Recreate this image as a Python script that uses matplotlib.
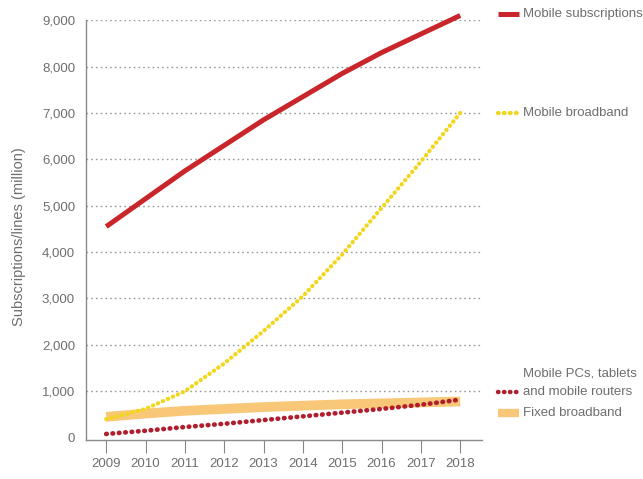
import matplotlib
matplotlib.use("Agg")
import matplotlib.pyplot as plt

plt.rcParams['font.family'] = ['Liberation Sans Narrow', 'Liberation Sans', 'DejaVu Sans']

years = [2009, 2010, 2011, 2012, 2013, 2014, 2015, 2016, 2017, 2018]
mobile_subs = [4550, 5150, 5750, 6300, 6850, 7350, 7850, 8300, 8700, 9100]
mobile_bb = [400, 620, 1000, 1600, 2300, 3050, 3950, 4950, 5950, 7000]
mobile_pcs = [80, 150, 230, 300, 380, 460, 540, 620, 710, 820]
fixed_bb = [450, 520, 580, 620, 660, 690, 720, 740, 760, 780]
yticks = [0, 1000, 2000, 3000, 4000, 5000, 6000, 7000, 8000, 9000]

red = '#c9262c'
yellow = '#f2d61c'
orange = '#f8c878'
darkred = '#b01e2e'
grey = '#6e6e6e'

fig = plt.figure(figsize=(6.43, 4.79), dpi=100)
ax = fig.add_axes([0.134, 0.0814, 0.616, 0.8766])

for v in yticks[1:]:
    ax.axhline(v, color='#9a9a9a', lw=1.0, ls=(0, (1.2, 2.2)), zorder=1)

ax.plot(years, fixed_bb, color=orange, lw=7, solid_capstyle='butt', zorder=2)
ax.plot(years, mobile_pcs, color=darkred, lw=3.4, ls=(0, (0.1, 1.25)),
        dash_capstyle='round', zorder=3)
ax.plot(years, mobile_bb, color=yellow, lw=3.0, ls=(0, (0.1, 1.2)),
        dash_capstyle='round', zorder=3)
ax.plot(years, mobile_subs, color=red, lw=3.6, solid_capstyle='butt',
        zorder=4, clip_on=False)

ax.set_xlim(2008.49, 2018.56)
ax.set_ylim(-50, 9000)
ax.set_xticks(years)
ax.set_yticks(yticks)
ax.set_yticklabels([f'{v:,}' for v in yticks])
ax.tick_params(axis='y', length=0, pad=8, labelsize=9.5, labelcolor=grey)
ax.tick_params(axis='x', length=9, width=0.8, color='#888888', pad=4,
               labelsize=9.5, labelcolor=grey)
for s in ['top', 'right']:
    ax.spines[s].set_visible(False)
for s in ['left', 'bottom']:
    ax.spines[s].set_color('#8a8a8a')
    ax.spines[s].set_linewidth(1.0)

fig.text(0.03, 0.505, 'Subscriptions/lines (million)', rotation=90,
         ha='center', va='center', fontsize=10.5, color=grey)

# legend entries placed next to the line ends
def key(y, color, dotted=False, lw=3.6):
    yf = 1 - y / 479
    if dotted:
        fig.add_artist(plt.Line2D([0.775, 0.805], [yf, yf], color=color, lw=3.2,
                                  ls=(0, (0.1, 1.25)), dash_capstyle='round'))
    else:
        fig.add_artist(plt.Line2D([0.775, 0.807], [yf, yf], color=color, lw=lw,
                                  solid_capstyle='butt'))

key(14, red)
fig.text(0.814, 1 - 14 / 479, 'Mobile subscriptions', va='center', fontsize=9.5, color=grey)
key(113, yellow, dotted=True)
fig.text(0.814, 1 - 113 / 479, 'Mobile broadband', va='center', fontsize=9.5, color=grey)
fig.text(0.814, 1 - 373 / 479, 'Mobile PCs, tablets', va='center', fontsize=9.5, color=grey)
key(392, darkred, dotted=True)
fig.text(0.814, 1 - 392 / 479, 'and mobile routers', va='center', fontsize=9.5, color=grey)
key(413, orange, lw=6)
fig.text(0.814, 1 - 413 / 479, 'Fixed broadband', va='center', fontsize=9.5, color=grey)

fig.savefig('out.png', dpi=100)
